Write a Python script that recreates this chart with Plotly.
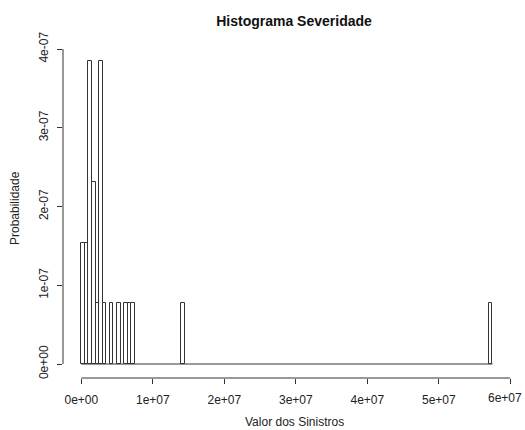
import numpy as np
import plotly.graph_objects as go

# Histogram data (R hist, breaks of 500,000; density = count / (n * width))
bin_width = 500000
bin_starts = [0, 500000, 1000000, 1500000, 2000000, 2500000, 3000000,
              4000000, 5000000, 6000000, 6500000, 7000000, 14000000, 57000000]
counts = [2, 2, 5, 3, 1, 5, 1, 1, 1, 1, 1, 1, 1, 1]
break_min = 0
break_max = 57500000

x_ticks = [0, 1e7, 2e7, 3e7, 4e7, 5e7, 6e7]
x_tick_labels = ["0e+00", "1e+07", "2e+07", "3e+07", "4e+07", "5e+07", "6e+07"]
y_ticks = [0, 1e-7, 2e-7, 3e-7, 4e-7]
y_tick_labels = ["0e+00", "1e-07", "2e-07", "3e-07", "4e-07"]

title_text = "Histograma Severidade"
x_title = "Valor dos Sinistros"
y_title = "Probabilidade"

n_total = sum(counts)
density = [c / (n_total * bin_width) for c in counts]
centers = [s + bin_width / 2 for s in bin_starts]

line_col = "#333333"
font_fam = "Liberation Sans, Arial, sans-serif"

fig = go.Figure()
# baseline of empty bins
fig.add_trace(go.Scatter(x=[break_min, break_max], y=[0, 0], mode="lines",
                         line=dict(color=line_col, width=1), hoverinfo="skip",
                         showlegend=False))
fig.add_trace(go.Bar(x=centers, y=density, width=bin_width,
                     marker=dict(color="white", line=dict(color=line_col, width=1)),
                     showlegend=False))

W, H = 525, 430
ml, mr, mt, mb = 63, 5, 40, 52
# pixel calibration
x0_px, px_per_1e7 = 81.3, 71.5
y0_px, px_per_1e7y = 364.0, 78.75
x_left = -(x0_px - ml) / px_per_1e7 * 1e7
x_right = ((W - mr) - x0_px) / px_per_1e7 * 1e7
y_bottom = -((H - mb) - y0_px) / px_per_1e7y * 1e-7
y_top = (y0_px - mt) / px_per_1e7y * 1e-7

# last x tick label is drawn separately so it stays inside the page
shown_x_labels = x_tick_labels[:-1] + [""]

fig.update_layout(
    width=W, height=H,
    margin=dict(l=ml, r=mr, t=mt, b=mb),
    paper_bgcolor="white", plot_bgcolor="white",
    font=dict(family=font_fam, size=12, color="#222222"),
    bargap=0,
    title=dict(text="<b>" + title_text + "</b>", xref="container", yref="container",
               x=294 / W, y=1 - 21 / H, xanchor="center", yanchor="middle",
               font=dict(size=14, color="#111111", family=font_fam)),
    xaxis=dict(range=[x_left, x_right], showgrid=False, zeroline=False,
               showline=False, tickmode="array", tickvals=x_ticks,
               ticktext=shown_x_labels, ticks="outside", ticklen=5,
               tickcolor=line_col, tickwidth=1, ticklabelstandoff=6,
               tickfont=dict(size=12, color="#222222")),
    yaxis=dict(range=[y_bottom, y_top], showgrid=False, zeroline=False,
               showline=False, tickmode="array", tickvals=y_ticks,
               ticktext=y_tick_labels, ticks="outside", ticklen=5,
               tickcolor=line_col, tickwidth=1, tickangle=-90,
               ticklabelstandoff=4,
               tickfont=dict(size=12, color="#222222")),
)

# R-style axis lines spanning first to last tick
fig.add_shape(type="line", xref="x", yref="paper", x0=x_ticks[0], x1=x_ticks[-1],
              y0=0, y1=0, line=dict(color=line_col, width=1))
fig.add_shape(type="line", xref="paper", yref="y", x0=0, x1=0,
              y0=y_ticks[0], y1=y_ticks[-1], line=dict(color=line_col, width=1))

fig.add_annotation(text=x_tick_labels[-1], xref="x", yref="paper",
                   x=x_ticks[-1], y=0, xanchor="center", yanchor="middle",
                   xshift=-5, yshift=-(398 - (H - mb)), showarrow=False,
                   font=dict(size=12, color="#222222"))

fig.add_annotation(text=x_title, xref="paper", yref="paper",
                   x=(294 - ml) / (W - ml - mr), y=-(422 - (H - mb)) / (H - mt - mb),
                   xanchor="center", yanchor="middle", showarrow=False,
                   font=dict(size=12, color="#222222"))
fig.add_annotation(text=y_title, xref="paper", yref="paper",
                   x=-(ml - 15) / (W - ml - mr), y=((H - mb) - 208) / (H - mt - mb),
                   xanchor="center", yanchor="middle", textangle=-90, showarrow=False,
                   font=dict(size=12, color="#222222"))

fig.write_html("out.html")
